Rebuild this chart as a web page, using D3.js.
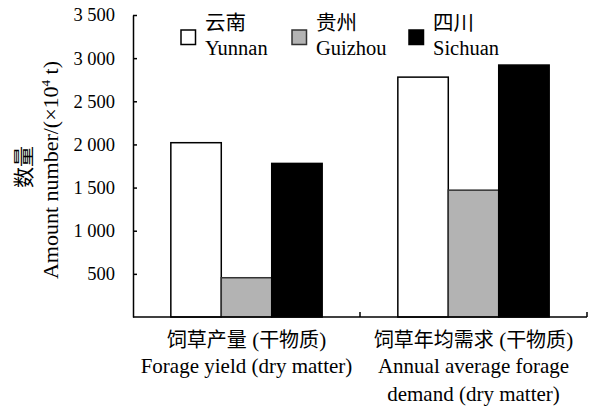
<!DOCTYPE html>
<html>
<head>
<meta charset="utf-8">
<script src="https://cdn.jsdelivr.net/npm/d3@7/dist/d3.min.js"></script>
<style>
  body { margin: 0; background: #fff; }
  svg { display: block; }
  .en { font-family: "Liberation Serif", "Times New Roman", serif; }
  .zh { font-family: "Noto Sans CJK SC", sans-serif; }
</style>
</head>
<body>
<svg id="chart" width="590" height="407"></svg>
<script>
// Forage supply and demand by province (×10^4 t, dry matter)
const categories = ["yield", "demand"];
const categoryZh = ["饲草产量 (干物质)", "饲草年均需求 (干物质)"];
const categoryEn = [["Forage yield (dry matter)"], ["Annual average forage", "demand (dry matter)"]];
const series = ["Yunnan", "Guizhou", "Sichuan"];
const seriesZh = ["云南", "贵州", "四川"];
const yunnan = [2020, 2780];
const guizhou = [455, 1470];
const sichuan = [1780, 2920];
const tickValues = [500, 1000, 1500, 2000, 2500, 3000, 3500];

const values = { Yunnan: yunnan, Guizhou: guizhou, Sichuan: sichuan };
const fills = { Yunnan: "#ffffff", Guizhou: "#b3b3b3", Sichuan: "#000000" };
const strokes = { Yunnan: "#000000", Guizhou: "#333333", Sichuan: "#000000" };

const svg = d3.select("#chart");
const plotLeft = 133, plotRight = 587, plotTop = 15, plotBottom = 317;

const x = d3.scaleBand().domain(categories).range([plotLeft, plotRight]).padding(0);
const xs = d3.scaleBand().domain(series).range([0, x.bandwidth()]).paddingInner(0).paddingOuter(0.75);
const y = d3.scaleLinear().domain([0, 3500]).range([plotBottom, plotTop]);

// bars
const groups = svg.append("g").selectAll("g")
  .data(categories)
  .join("g")
  .attr("transform", d => `translate(${x(d)},0)`);

groups.selectAll("rect")
  .data((d, i) => series.map(s => ({ s, v: values[s][i] })))
  .join("rect")
  .attr("x", d => xs(d.s))
  .attr("y", d => y(d.v))
  .attr("width", xs.bandwidth())
  .attr("height", d => y(0) - y(d.v))
  .attr("fill", d => fills[d.s])
  .attr("stroke", d => strokes[d.s])
  .attr("stroke-width", 1.5);

// y axis
const fmt = d3.formatLocale({ decimal: ".", thousands: " ", grouping: [3], currency: ["", ""] }).format(",d");
const yAxis = svg.append("g")
  .attr("transform", `translate(${plotLeft},0)`)
  .call(d3.axisLeft(y).tickValues(tickValues).tickSizeInner(-4).tickSizeOuter(0).tickPadding(18).tickFormat(fmt));
yAxis.attr("font-family", null).attr("font-size", null);
yAxis.select(".domain").attr("stroke", "#000").attr("stroke-width", 1.5);
yAxis.selectAll(".tick line").attr("stroke", "#000").attr("stroke-width", 1.5);
yAxis.selectAll(".tick text")
  .attr("class", "en")
  .attr("font-size", 18.5)
  .attr("fill", "#000");

// x axis
svg.append("line")
  .attr("x1", plotLeft).attr("x2", plotRight)
  .attr("y1", plotBottom).attr("y2", plotBottom)
  .attr("stroke", "#000").attr("stroke-width", 1.5);
svg.append("g").selectAll("line")
  .data(categories)
  .join("line")
  .attr("x1", d => x(d) + x.bandwidth())
  .attr("x2", d => x(d) + x.bandwidth())
  .attr("y1", plotBottom).attr("y2", plotBottom - 5)
  .attr("stroke", "#000").attr("stroke-width", 1.5);

// category labels
const labels = svg.append("g").selectAll("g")
  .data(categories)
  .join("g")
  .attr("transform", d => `translate(${x(d) + x.bandwidth() / 2},0)`);
labels.append("text")
  .attr("y", 347)
  .attr("text-anchor", "middle")
  .attr("font-size", 21)
  .attr("fill", "#000")
  .each(function (d, i) {
    const t = d3.select(this);
    const [zh, paren] = categoryZh[i].split(" ");
    t.append("tspan").attr("class", "zh").attr("font-size", 20).text(zh);
    t.append("tspan").attr("class", "en").text(" (");
    t.append("tspan").attr("class", "zh").attr("font-size", 20).text(paren.slice(1, -1));
    t.append("tspan").attr("class", "en").text(")");
  });
labels.each(function (d, i) {
  d3.select(this).selectAll("text.line")
    .data(categoryEn[i])
    .join("text")
    .attr("class", "en line")
    .attr("y", (t, j) => 373 + j * 27.5)
    .attr("text-anchor", "middle")
    .attr("font-size", 21)
    .attr("fill", "#000")
    .text(t => t);
});

// y axis title
const yTitle = svg.append("g");
yTitle.append("text")
  .attr("class", "zh")
  .attr("transform", `translate(31,167) rotate(-90)`)
  .attr("text-anchor", "middle")
  .attr("font-size", 21)
  .text("数量");
const yt = yTitle.append("text")
  .attr("class", "en")
  .attr("transform", `translate(58,170) rotate(-90)`)
  .attr("text-anchor", "middle")
  .attr("font-size", 22);
yt.append("tspan").text("Amount number/(×10");
yt.append("tspan").attr("font-size", 13).attr("dy", -8).text("4");
yt.append("tspan").attr("dy", 8).text(" t)");

// legend
const legendX = [181, 292, 409];
const legend = svg.append("g").selectAll("g")
  .data(series)
  .join("g")
  .attr("transform", (d, i) => `translate(${legendX[i]},0)`);
legend.append("rect")
  .attr("x", 0).attr("y", 30)
  .attr("width", 14.5).attr("height", 14.5)
  .attr("fill", d => fills[d])
  .attr("stroke", d => strokes[d])
  .attr("stroke-width", 1.5);
legend.append("text")
  .attr("class", "zh")
  .attr("x", 24).attr("y", 30)
  .attr("font-size", 20.5)
  .text((d, i) => seriesZh[i]);
legend.append("text")
  .attr("class", "en")
  .attr("x", 24).attr("y", 55)
  .attr("font-size", 20.5)
  .text(d => d);
</script>
</body>
</html>
